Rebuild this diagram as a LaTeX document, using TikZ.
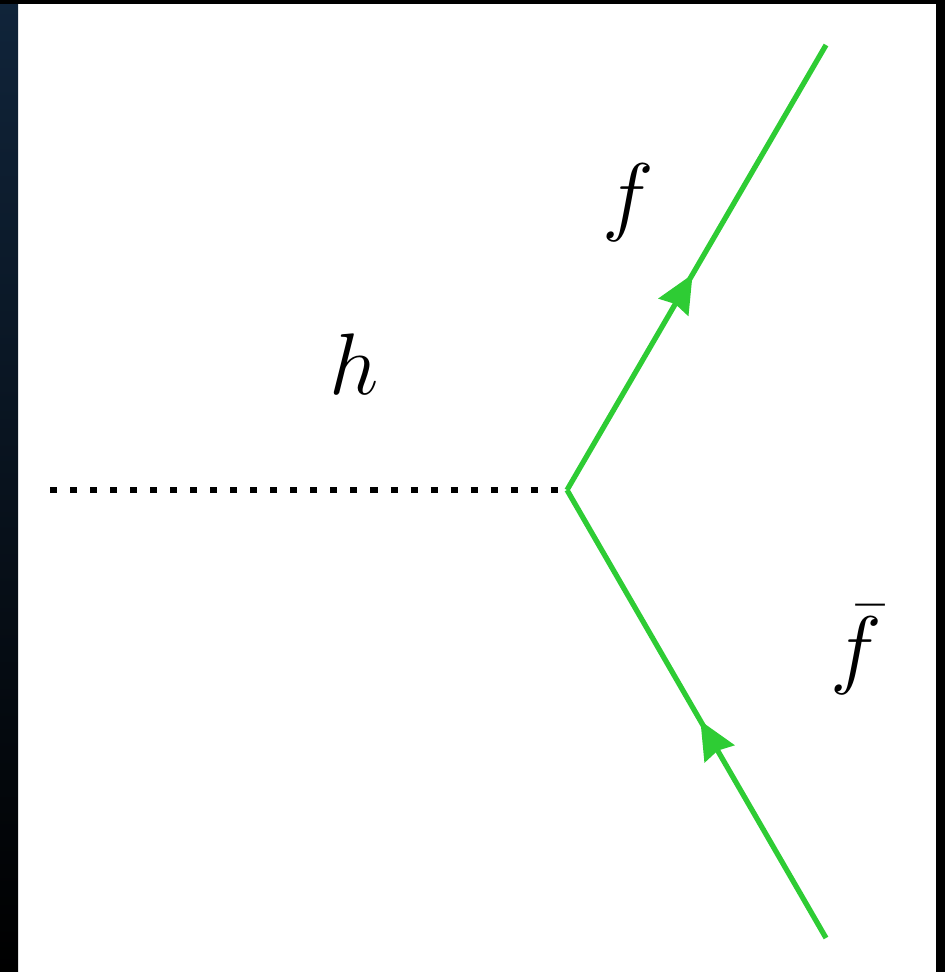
\documentclass[tikz,border=0pt]{standalone}
\usepackage{amsmath,amssymb}
\usepackage{graphicx}
\usetikzlibrary{arrows.meta,decorations.markings}
\definecolor{fgreen}{RGB}{46,204,52}
\definecolor{navybg}{RGB}{16,36,58}
\newcommand{\biglbl}[1]{\scalebox{2.0}{\Huge #1}}
\tikzset{
  >={Stealth[length=0.76cm,width=0.68cm,inset=0.07cm]},
  higgs/.style={line width=3pt,dash pattern=on 4pt off 7.4pt,black},
  fermion/.style={line width=3pt,fgreen,
    postaction={decorate},decoration={markings,
      mark=at position 0.485 with {\arrow[fgreen]{>}}}},
  plbl/.style={inner sep=0pt},
}

\begin{document}
\begin{tikzpicture}[x=0.02cm,y=-0.02cm]
  \useasboundingbox (0,0) rectangle (945,972);
  % frame of the screenshot
  \shade[top color=navybg,bottom color=black] (0,0) rectangle (18,972);
  \fill[black] (0,0) rectangle (945,4);
  \fill[black] (936,0) rectangle (945,972);
  % vertex and external legs
  \coordinate (v) at (567,490);
  \coordinate (hin) at (50,490);
  \coordinate (fout) at (826,45);
  \coordinate (fbin) at (826,938);
  \draw[higgs] (hin) -- (v);
  \draw[fermion] (v) -- (fout);
  \draw[fermion] (fbin) -- (v);
  % labels
  \node[plbl] (hl) at (354,364) {\biglbl{$h$}};
  \node[plbl] (fl) at (628,203) {\biglbl{$f$}};
  \node[plbl] (fbl) at (856,650) {\biglbl{$\bar{f}$}};
\end{tikzpicture}
\end{document}
